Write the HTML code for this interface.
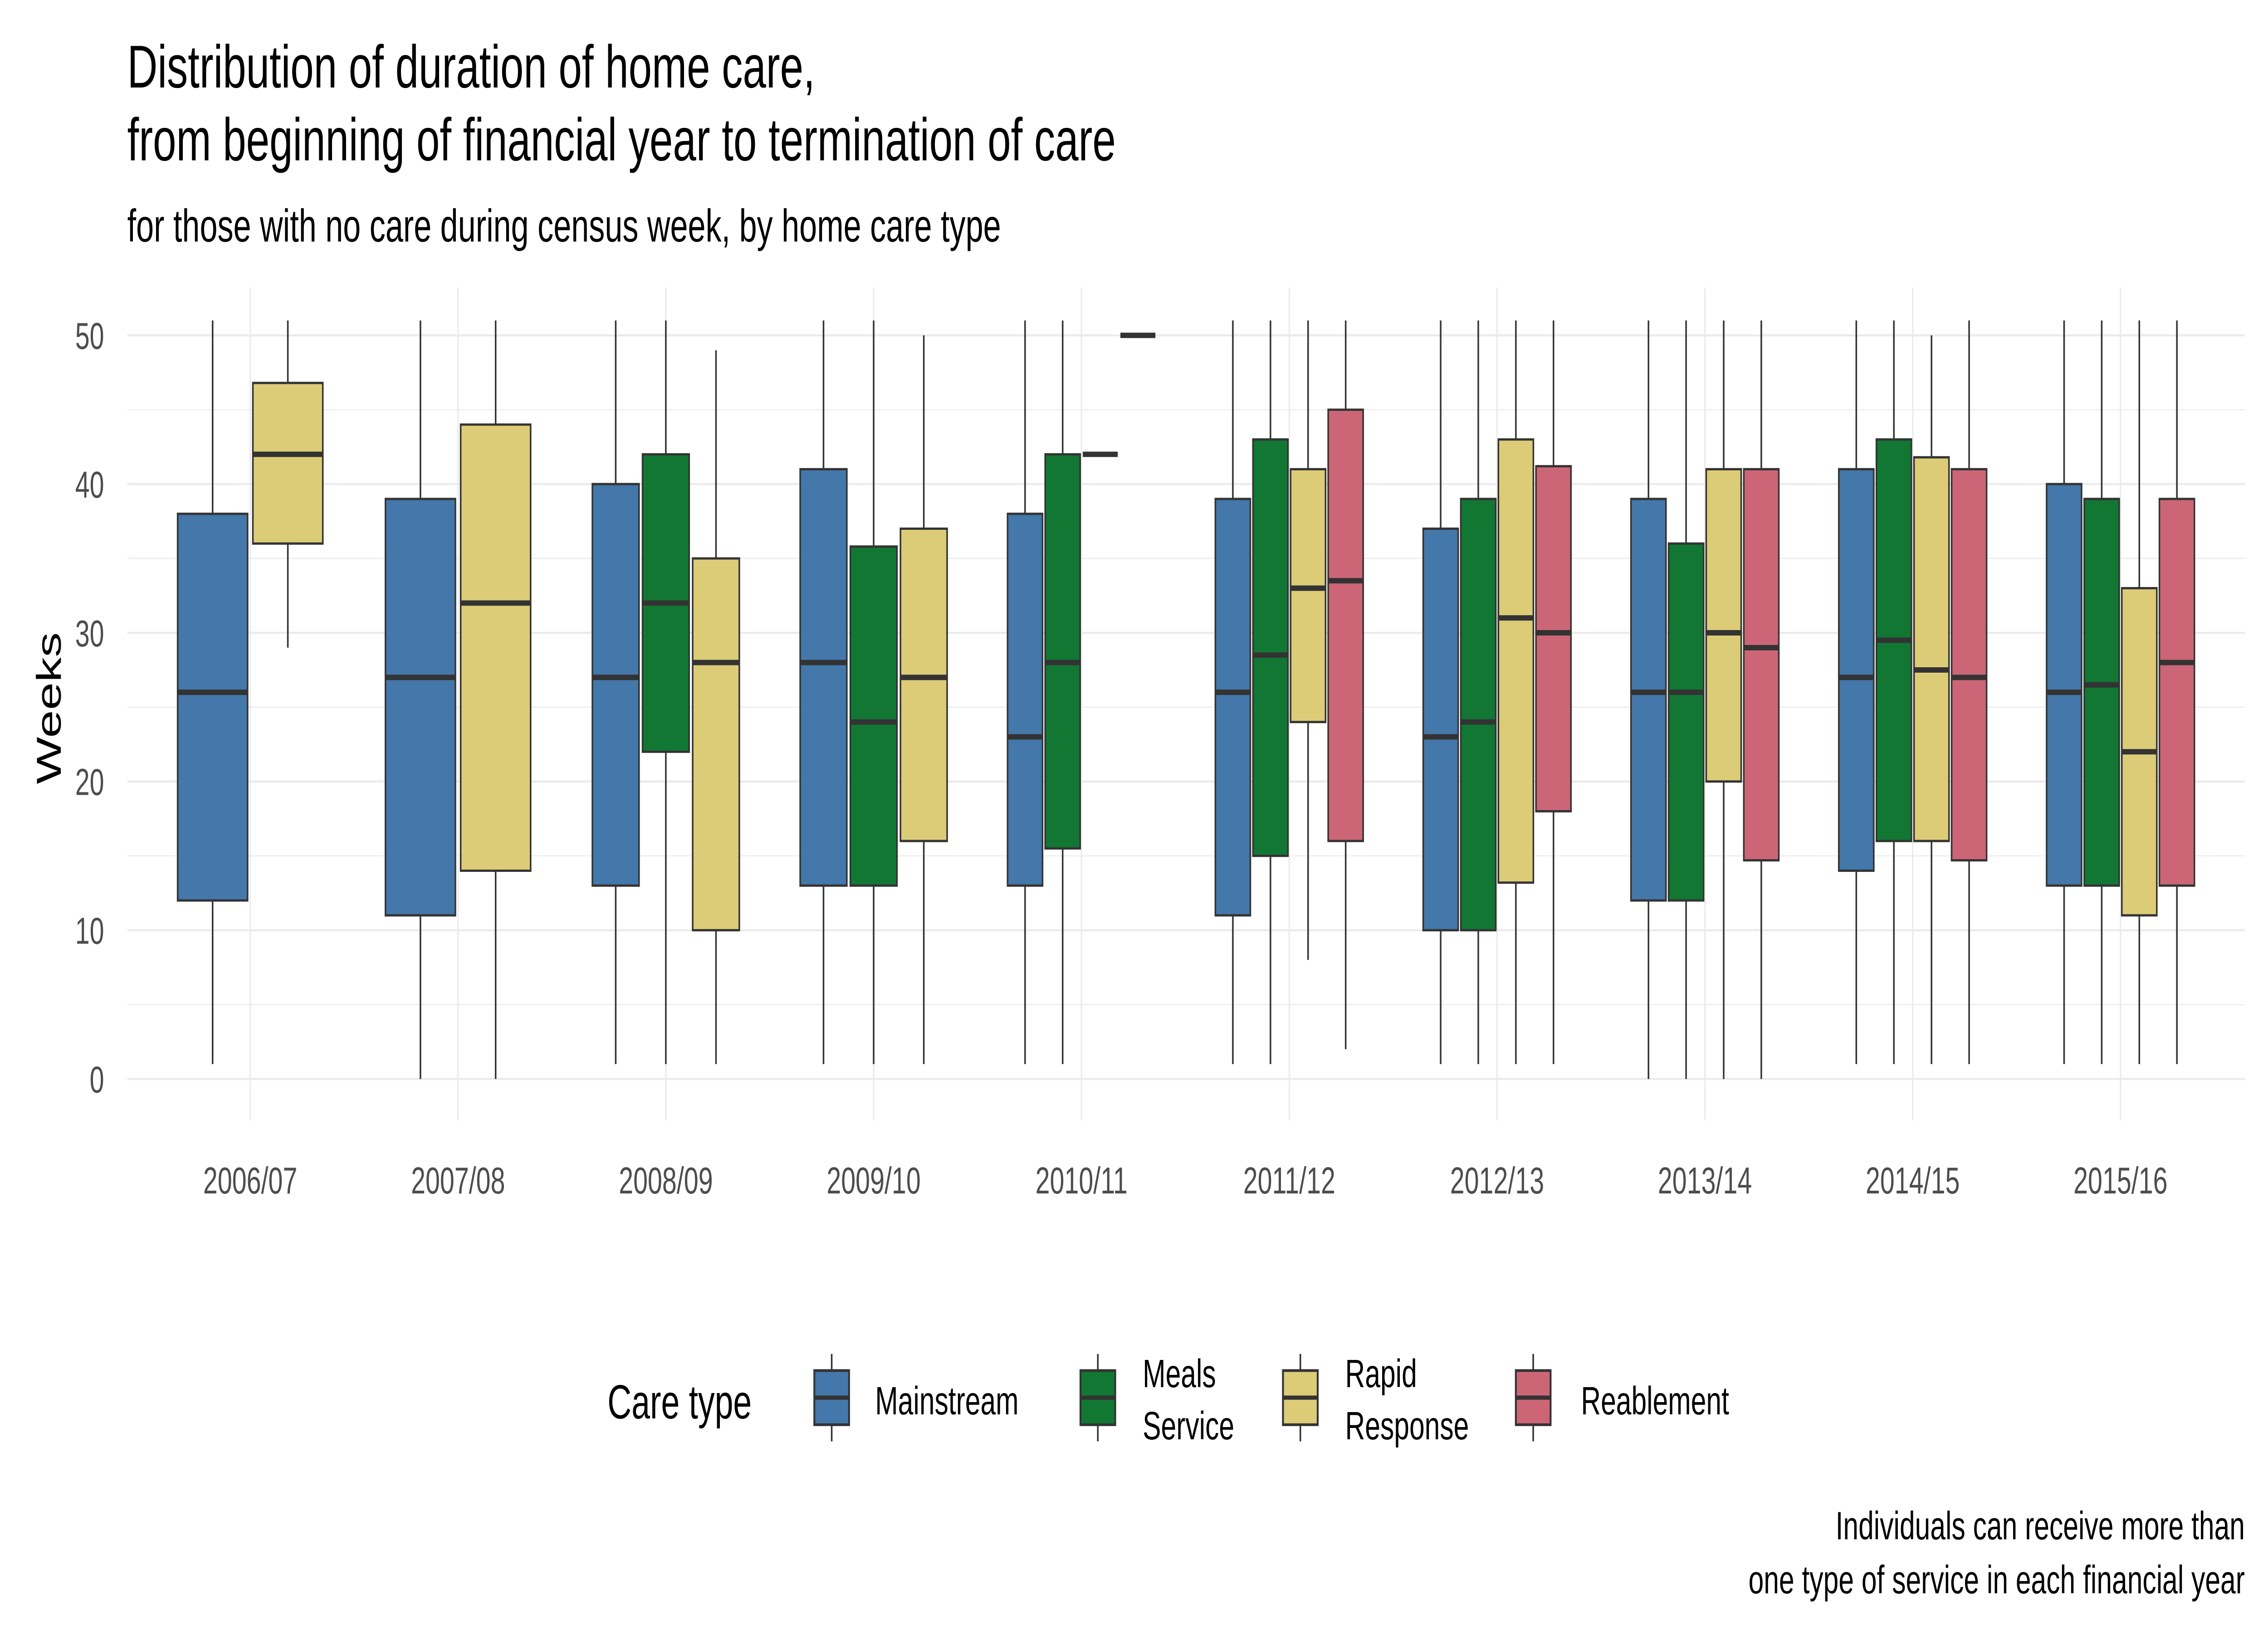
<!DOCTYPE html>
<html><head><meta charset="utf-8"><style>
html,body{margin:0;padding:0;background:#fff;overflow:hidden;width:100%;height:100%}
svg{display:block;width:100vw;height:100vh}
text{font-family:"Liberation Sans",Arial,sans-serif}
</style></head><body>
<svg id="chart" viewBox="0 0 1568 784" preserveAspectRatio="none" xmlns="http://www.w3.org/2000/svg">
<rect width="1568" height="784" fill="#fff"/>
<text x="88" y="42" font-size="29" fill="#000">Distribution of duration of home care,</text>
<text x="88" y="77" font-size="29" fill="#000">from beginning of financial year to termination of care</text>
<text x="88" y="116" font-size="22" fill="#000">for those with no care during census week, by home care type</text>
<g id="grid"></g>
<g id="boxes"></g>
<g id="axes"></g>
<text transform="translate(42,340) rotate(-90)" text-anchor="middle" font-size="24" fill="#000">Weeks</text>
<g id="legend">
<text x="420" y="681" font-size="23" fill="#000">Care type</text>
</g>
<text x="1552" y="739" text-anchor="end" font-size="19" fill="#000">Individuals can receive more than</text>
<text x="1552" y="765" text-anchor="end" font-size="19" fill="#000">one type of service in each financial year</text>
</svg>
<script>
const categories = ["2006/07","2007/08","2008/09","2009/10","2010/11","2011/12","2012/13","2013/14","2014/15","2015/16"];
const careTypes = ["Mainstream","Meals Service","Rapid Response","Reablement"];
const colors = ["#4477AA","#117733","#DDCC77","#CC6677"];
// per category: list of [typeIndex, min, q1, median, q3, max]
const stats2006 = [[0,1,12,26,38,51],[2,29,36,42,46.8,51]];
const stats2007 = [[0,0,11,27,39,51],[2,0,14,32,44,51]];
const stats2008 = [[0,1,13,27,40,51],[1,1,22,32,42,51],[2,1,10,28,35,49]];
const stats2009 = [[0,1,13,28,41,51],[1,1,13,24,35.8,51],[2,1,16,27,37,50]];
const stats2010 = [[0,1,13,23,38,51],[1,1,15.5,28,42,51],[2,42,42,42,42,42],[3,50,50,50,50,50]];
const stats2011 = [[0,1,11,26,39,51],[1,1,15,28.5,43,51],[2,8,24,33,41,51],[3,2,16,33.5,45,51]];
const stats2012 = [[0,1,10,23,37,51],[1,1,10,24,39,51],[2,1,13.2,31,43,51],[3,1,18,30,41.2,51]];
const stats2013 = [[0,0,12,26,39,51],[1,0,12,26,36,51],[2,0,20,30,41,51],[3,0,14.7,29,41,51]];
const stats2014 = [[0,1,14,27,41,51],[1,1,16,29.5,43,51],[2,1,16,27.5,41.8,50],[3,1,14.7,27,41,51]];
const stats2015 = [[0,1,13,26,40,51],[1,1,13,26.5,39,51],[2,1,11,22,33,51],[3,1,13,28,39,51]];
const allStats = [stats2006,stats2007,stats2008,stats2009,stats2010,stats2011,stats2012,stats2013,stats2014,stats2015];
const yTicks = [0,10,20,30,40,50];

const NS="http://www.w3.org/2000/svg";
const panelL=88, panelR=1552, panelT=138, panelB=538;
function xScale(i){return 173+i*143.67;}
function yScale(v){return 518-v*7.14;}
function mk(tag,attrs,parent){const e=document.createElementNS(NS,tag);for(const k in attrs)e.setAttribute(k,attrs[k]);parent.appendChild(e);return e;}
const grid=document.getElementById('grid'), boxes=document.getElementById('boxes'), axes=document.getElementById('axes'), legend=document.getElementById('legend');
for(let v=5; v<=45; v+=10){
  const l=mk('line',{x1:panelL,x2:panelR,y1:yScale(v),y2:yScale(v),stroke:'#ebebeb','stroke-width':0.5},grid);
  
  
}
yTicks.forEach(v=>{
  const l=mk('line',{x1:panelL,x2:panelR,y1:yScale(v),y2:yScale(v),stroke:'#ebebeb','stroke-width':1},grid);
  
  
  const t=mk('text',{x:72,y:yScale(v)+6.5,'text-anchor':'end','font-size':18,fill:'#4d4d4d'},axes);
  t.textContent=v;
  
  
});
categories.forEach((c,i)=>{
  const l=mk('line',{x1:xScale(i),x2:xScale(i),y1:panelT,y2:panelB,stroke:'#ebebeb','stroke-width':1},grid);
  
  
  const t=mk('text',{x:xScale(i),y:573,'text-anchor':'middle','font-size':18,fill:'#4d4d4d'},axes);
  t.textContent=c;
  
  
});
const totalW=104;
allStats.forEach((grp,i)=>{
  const n=grp.length, slot=totalW/n, bw=slot*0.93;
  grp.forEach((s,j)=>{
    const cx=xScale(i)-totalW/2+slot*(j+0.5);
    const [ti,mn,q1,md,q3,mx]=s;
    const g=mk('g',{},boxes);
    
    
    mk('line',{x1:cx,x2:cx,y1:yScale(mx),y2:yScale(q3),stroke:'#333','stroke-width':1.1},g);
    mk('line',{x1:cx,x2:cx,y1:yScale(q1),y2:yScale(mn),stroke:'#333','stroke-width':1.1},g);
    mk('rect',{x:cx-bw/2,y:yScale(q3),width:bw,height:Math.max(0,yScale(q1)-yScale(q3)),fill:colors[ti],stroke:'#333','stroke-width':1.1},g);
    mk('line',{x1:cx-bw/2,x2:cx+bw/2,y1:yScale(md),y2:yScale(md),stroke:'#333','stroke-width':2.6},g);
  });
});
const keyX=[563,747,887,1048], labX=[605,790,930,1093];
const labLines=[["Mainstream"],["Meals","Service"],["Rapid","Response"],["Reablement"]];
careTypes.forEach((c,i)=>{
  const g=mk('g',{},legend);
  
  
  const cx=keyX[i]+12;
  mk('line',{x1:cx,x2:cx,y1:650,y2:692,stroke:'#333','stroke-width':1.1},g);
  mk('rect',{x:keyX[i],y:658,width:24,height:26,fill:colors[i],stroke:'#333','stroke-width':1.3},g);
  mk('line',{x1:keyX[i],x2:keyX[i]+24,y1:671,y2:671,stroke:'#333','stroke-width':2},g);
  const ls=labLines[i];
  ls.forEach((t,k)=>{
    const y= ls.length===1 ? 679 : 666+k*25;
    const tx=mk('text',{x:labX[i],y:y,'font-size':19,fill:'#000'},g);
    tx.textContent=t;
  });
});
</script>
</body></html>
